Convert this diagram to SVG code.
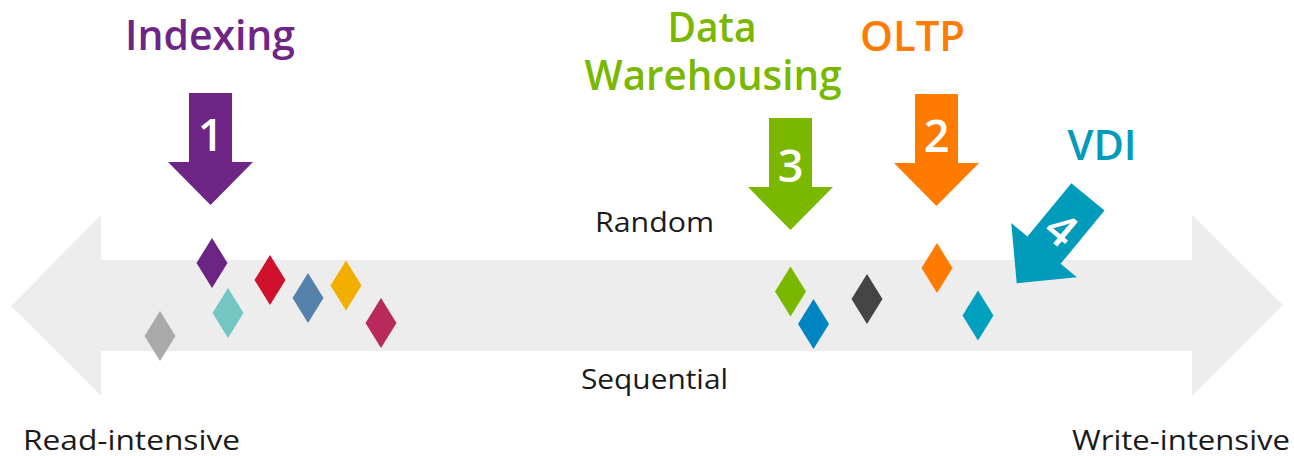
<svg xmlns="http://www.w3.org/2000/svg" width="1294" height="456" viewBox="0 0 1294 456">
<style>
.title{font-family:"Open Sans","Liberation Sans",sans-serif;font-weight:600;font-size:42px;text-anchor:middle}
.lbl{font-family:"Open Sans","Liberation Sans",sans-serif;font-weight:400;font-size:28px;fill:#1a1a1a}
.num{font-family:"Open Sans","Liberation Sans",sans-serif;font-weight:600;font-size:45px;fill:#ffffff;text-anchor:middle}
</style>
<defs>
<polygon id="arr" points="-21.5,-112 21.5,-112 21.5,-43 42.5,-43 0,0 -42.5,-43 -21.5,-43"/>
<polygon id="dia" points="0,-25 15.5,0 0,25 -15.5,0"/>
</defs>
<g id="axis">
<polygon points="11,306 101,215 101,260 1192,260 1192,215 1283,305 1192,396 1192,351 101,351 101,396" fill="#ededed"/>
</g>
<g id="labels">
<text class="lbl" x="595" y="231.5" textLength="119" lengthAdjust="spacingAndGlyphs">Random</text>
<text class="lbl" x="581" y="388.5" textLength="147" lengthAdjust="spacingAndGlyphs">Sequential</text>
<text class="lbl" x="23" y="450" textLength="217" lengthAdjust="spacingAndGlyphs">Read-intensive</text>
<text class="lbl" x="1072" y="450" textLength="218" lengthAdjust="spacingAndGlyphs">Write-intensive</text>
</g>
<g id="points">
<use href="#dia" x="212" y="263" fill="#6b2483"/>
<use href="#dia" x="270" y="280" fill="#d0112b"/>
<use href="#dia" x="308" y="298" fill="#5482ab"/>
<use href="#dia" x="346" y="285.5" fill="#f2af00"/>
<use href="#dia" x="381" y="323" fill="#b72a5b"/>
<use href="#dia" x="228" y="313" fill="#73c6c2"/>
<use href="#dia" x="160" y="336" fill="#aaaaaa"/>
<use href="#dia" x="790.5" y="291.5" fill="#7ab800"/>
<use href="#dia" x="813.5" y="324" fill="#0085c3"/>
<use href="#dia" x="867" y="299" fill="#444444"/>
<use href="#dia" x="937" y="268" fill="#ff7b00"/>
<use href="#dia" x="978" y="315.5" fill="#00a0be"/>
</g>
<g id="indexing">
<text class="title" x="210" y="50" fill="#6e2585" font-size="44" textLength="170" lengthAdjust="spacingAndGlyphs">Indexing</text>
<use href="#arr" x="210.5" y="205" fill="#6e2585"/>
<text class="num" x="210.5" y="151">1</text>
</g>
<g id="datawarehousing">
<text class="title" x="712" y="41.5" fill="#7ab800" font-size="40" textLength="89" lengthAdjust="spacingAndGlyphs">Data</text>
<text class="title" x="713" y="90" fill="#7ab800" font-size="40" textLength="257" lengthAdjust="spacingAndGlyphs">Warehousing</text>
<use href="#arr" x="790.5" y="230" fill="#7ab800"/>
<text class="num" x="790.5" y="181.5">3</text>
</g>
<g id="oltp">
<text class="title" x="912.5" y="50.5" fill="#ff7b00" font-size="41" textLength="105" lengthAdjust="spacingAndGlyphs">OLTP</text>
<use href="#arr" x="936.5" y="206" fill="#ff7b00"/>
<text class="num" x="936.5" y="151.5">2</text>
</g>
<g id="vdi">
<text class="title" x="1102" y="160" fill="#019bbb" textLength="69" lengthAdjust="spacingAndGlyphs">VDI</text>
<g transform="translate(1016.7,283.3) rotate(39.5)">
<use href="#arr" fill="#019bbb"/>
<text class="num" x="0" y="-54">4</text>
</g>
</g>
</svg>
